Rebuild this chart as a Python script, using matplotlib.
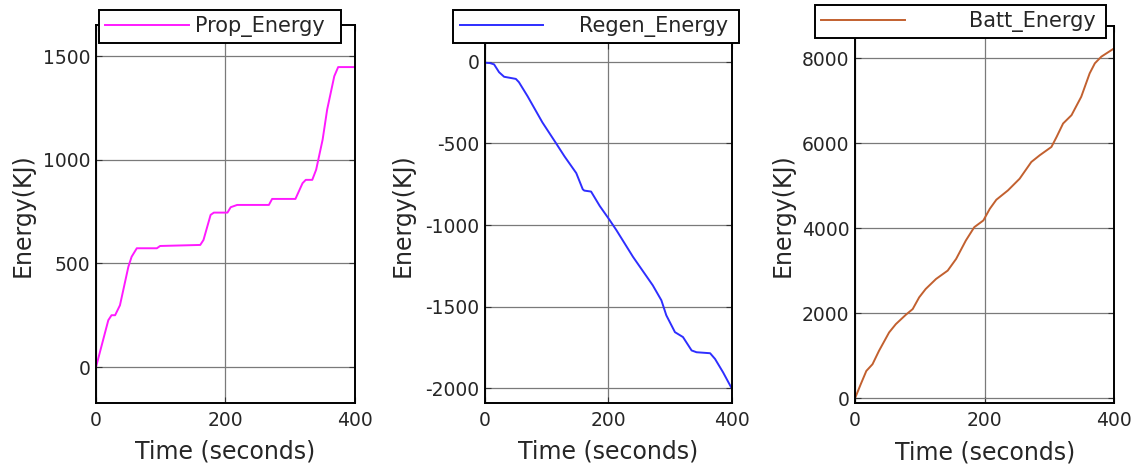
import matplotlib
matplotlib.use("Agg")
import matplotlib.pyplot as plt

plt.rcParams['font.family'] = ['DejaVu Sans']
plt.rcParams['axes.unicode_minus'] = False

# ---- data ----
prop_t = [0, 19, 24, 29.5, 37, 50, 55, 63, 94, 99, 161, 166, 177, 182, 203, 208, 218,
          267, 272, 308, 319, 324, 334, 340, 350, 357, 368, 374, 400]
prop_e = [0, 226, 250, 250, 298, 484, 532, 573, 573, 584, 589, 613, 734, 745, 745, 771, 782,
          782, 811, 811, 887, 903, 903, 952, 1097, 1242, 1403, 1447, 1447]

regen_t = [0, 8, 14.7, 22.8, 31, 50, 55, 69, 93, 115, 129, 148, 158.5, 161, 172, 186, 202,
           213, 240, 272, 286, 294, 308, 321, 335, 343, 365, 373, 386, 400]
regen_e = [-6, -8, -16, -64, -92, -105, -125, -211, -371, -498, -580, -682, -781, -789, -795,
           -883, -969, -1031, -1195, -1369, -1461, -1553, -1656, -1686, -1768, -1779, -1785,
           -1820, -1902, -2000]

batt_t = [0, 8.8, 17.5, 27, 37, 52.6, 63, 78.5, 89, 99, 109, 125, 143, 156, 171, 184, 198,
          208, 218, 236, 254, 272, 285, 303, 311, 321, 334, 349, 362, 370, 380, 400]
batt_e = [0, 330, 645, 802, 1117, 1550, 1746, 1967, 2100, 2376, 2572, 2808, 3005, 3280, 3713,
          4027, 4185, 4460, 4672, 4893, 5168, 5561, 5719, 5915, 6151, 6466, 6662, 7095, 7646,
          7882, 8039, 8236]

series_names = ["Prop_Energy", "Regen_Energy", "Batt_Energy"]
series_colors = ["#ff1aff", "#2e2eff", "#c2602f"]
y_ticks = [[0, 500, 1000, 1500],
           [-2000, -1500, -1000, -500, 0],
           [0, 2000, 4000, 6000, 8000]]
y_limits = [(-172, 1650), (-2088, 113), (-103, 8760)]
x_ticks = [0, 200, 400]
x_label = "Time (seconds)"
y_label = "Energy(KJ)"

# ---- layout (pixels) ----
W, H = 1137, 470
fig = plt.figure(figsize=(W / 100, H / 100), dpi=100)

axes_px = [(96, 355, 25, 402.7), (485, 731.7, 43.3, 402.7), (855, 1114.3, 26, 402.7)]
legend_px = [(99, 341, 43.3), (453.3, 739.3, 43.3), (815, 1106, 38.3)]
handlepads = [0.3, 1.75, 3.1]
ylabel_x = [-0.282, -0.332, -0.278]
ylabel_y = [0.497, 0.522, 0.498]
xlabel_y = [-0.1305, -0.137, -0.131]

data = [(prop_t, prop_e), (regen_t, regen_e), (batt_t, batt_e)]
txtcol = "#262626"

for i in range(3):
    l, r, t, b = axes_px[i]
    ax = fig.add_axes([l / W, 1 - b / H, (r - l) / W, (b - t) / H])
    tt, ee = data[i]
    line, = ax.plot(tt, ee, color=series_colors[i], lw=1.4, label=series_names[i],
                    solid_joinstyle="round")
    ax.set_xlim(0, 400)
    ax.set_ylim(*y_limits[i])
    ax.set_xticks(x_ticks)
    ax.set_yticks(y_ticks[i])
    ax.grid(True, color="#7a7a7a", lw=0.9)
    ax.set_axisbelow(True)
    ax.tick_params(direction="in", length=4, width=0.8, top=True, right=True,
                   labelsize=13.5, labelcolor=txtcol, color="#333333")
    ax.tick_params(axis="x", pad=6)
    ax.tick_params(axis="y", pad=4)
    for s in ax.spines.values():
        s.set_linewidth(1.4)
        s.set_color("black")
    ax.set_xlabel(x_label, fontsize=17, color=txtcol)
    ax.set_ylabel(y_label, fontsize=17, color=txtcol)
    ax.xaxis.label.set_va("center")
    ax.yaxis.label.set_va("center")
    ax.xaxis.set_label_coords(0.5, xlabel_y[i])
    ax.yaxis.set_label_coords(ylabel_x[i], ylabel_y[i])

    lx0, lx1, lyb = legend_px[i]
    leg = ax.legend(handles=[line], loc="lower left",
                    bbox_to_anchor=(lx0 / W, 1 - lyb / H, (lx1 - lx0) / W, 0.05),
                    bbox_transform=fig.transFigure, mode="expand",
                    fontsize=15, handlelength=4.0, handletextpad=handlepads[i],
                    borderpad=0.3, borderaxespad=0, fancybox=False, framealpha=1,
                    edgecolor="black")
    leg.get_frame().set_linewidth(1.4)
    for txt in leg.get_texts():
        txt.set_color(txtcol)

fig.savefig("out.png", dpi=100)
